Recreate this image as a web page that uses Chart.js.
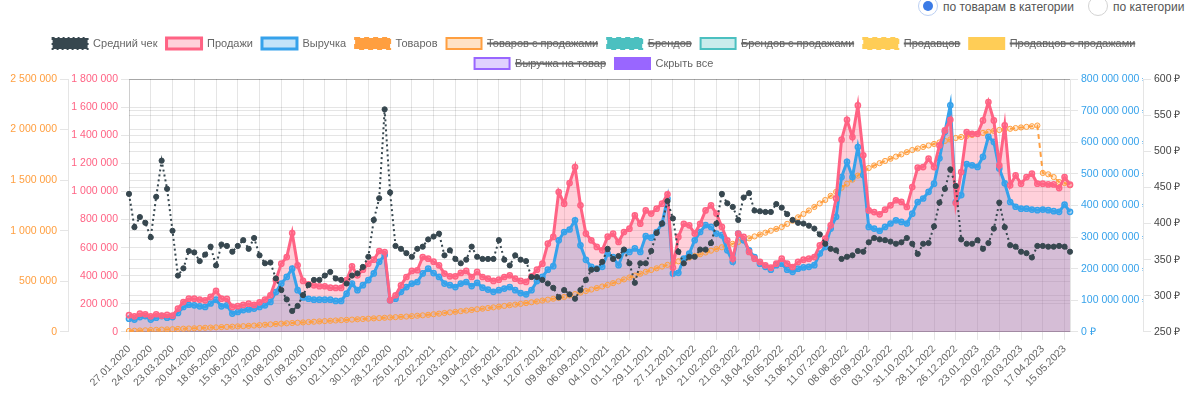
<!DOCTYPE html>
<html>
<head>
<meta charset="utf-8">
<script src="https://cdn.jsdelivr.net/npm/chart.js@4.4.0/dist/chart.umd.min.js"></script>
<style>
  html, body { margin: 0; padding: 0; background: #fff; width: 1200px; height: 401px; overflow: hidden; }
  body { font-family: 'Liberation Sans', Arial, sans-serif; }
  .opt { position: absolute; top: 0; height: 16px; }
  .radio { position: absolute; top: -4px; left: 0; width: 20px; height: 20px; box-sizing: border-box;
           border: 1px solid #d3d3d3; border-radius: 50%; background: #fff; }
  .radio.on { border-color: #bcd0f3; }
  .radio.on::after { content: ''; position: absolute; left: 4px; top: 4px; width: 10px; height: 10px;
                     border-radius: 50%; background: #3b7be6; }
  .txt { position: absolute; left: 25px; top: 0; font-size: 12px; color: #555; white-space: nowrap; }
  #wrap { position: absolute; left: 0; top: 29px; width: 1200px; height: 372px; }
</style>
</head>
<body>
<div class="opt" style="left:918px"><span class="radio on"></span><span class="txt">по товарам в категории</span></div>
<div class="opt" style="left:1088px"><span class="radio"></span><span class="txt">по категории</span></div>
<div id="wrap"><canvas id="trendChart"></canvas></div>
<script>
// weekly points from 27.01.2020
var weekCount = 174;

// average check, rub
var avgCheck = [
  441, 395, 409, 401, 381, 437, 487, 448, 390, 328,
  338, 362, 360, 348, 357, 368, 342, 371, 369, 361,
  369, 377, 365, 380, 356, 345, 346, 324, 308, 295,
  279, 286, 301, 315, 322, 322, 328, 333, 324, 322,
  317, 328, 331, 340, 354, 405, 435, 558, 443, 369,
  365, 359, 354, 365, 368, 378, 382, 386, 356, 363,
  351, 345, 350, 368, 354, 351, 351, 351, 377, 350,
  342, 356, 350, 348, 326, 326, 322, 317, 311, 298,
  308, 302, 296, 308, 322, 336, 337, 347, 365, 351,
  355, 364, 345, 318, 345, 345, 362, 387, 400, 431,
  407, 361, 345, 354, 354, 364, 364, 373, 400, 441,
  428, 423, 405, 436, 442, 418, 417, 416, 416, 427,
  422, 413, 405, 401, 400, 397, 393, 385, 372, 365,
  363, 351, 354, 356, 362, 361, 374, 380, 378, 377,
  375, 372, 374, 380, 372, 358, 372, 373, 396, 429,
  448, 475, 452, 378, 372, 372, 377, 365, 373, 393,
  429, 395, 370, 368, 361, 359, 353, 369, 369, 368,
  368, 369, 368, 361
];

// sales, thousands of units
var salesK = [
  119, 111, 130, 126, 111, 126, 116, 121, 116, 166,
  213, 237, 237, 230, 225, 249, 292, 237, 235, 178,
  183, 192, 201, 192, 211, 230, 261, 370, 486, 533,
  704, 474, 363, 339, 332, 325, 325, 315, 313, 313,
  368, 467, 403, 443, 486, 514, 576, 569, 225, 261,
  332, 391, 434, 439, 533, 521, 500, 474, 415, 396,
  396, 420, 434, 391, 427, 391, 379, 363, 372, 391,
  403, 379, 363, 356, 396, 443, 486, 628, 676, 996,
  913, 1060, 1173, 901, 700, 652, 605, 581, 678, 699,
  640, 711, 735, 830, 770, 865, 842, 877, 913, 979,
  458, 676, 770, 759, 700, 770, 865, 901, 842, 747,
  652, 521, 699, 676, 569, 521, 498, 474, 457, 486,
  521, 486, 462, 498, 514, 521, 533, 616, 664, 759,
  950, 1368, 1510, 1387, 1612, 1257, 865, 853, 837, 870,
  901, 937, 925, 889, 1031, 1169, 1173, 1233, 1173, 1327,
  1434, 1510, 917, 1138, 1422, 1410, 1410, 1505, 1636, 1505,
  1185, 1470, 1043, 1114, 1055, 1102, 1126, 1055, 1055, 1050,
  1050, 1024, 1102, 1048
];

// revenue, millions of rub
var revenueM = [
  42, 39, 47, 50, 39, 45, 50, 45, 47, 60,
  79, 86, 84, 81, 79, 90, 102, 81, 84, 58,
  63, 69, 71, 74, 79, 84, 95, 126, 153, 174,
  200, 132, 109, 105, 102, 102, 102, 102, 98, 98,
  121, 153, 132, 148, 164, 185, 222, 243, 100, 105,
  127, 142, 153, 158, 185, 200, 186, 174, 153, 148,
  142, 153, 158, 145, 155, 140, 134, 127, 132, 137,
  142, 132, 123, 119, 132, 161, 174, 197, 208, 290,
  316, 324, 353, 274, 228, 206, 200, 206, 248, 237,
  211, 258, 253, 264, 253, 303, 298, 316, 343, 422,
  185, 187, 232, 248, 290, 316, 338, 332, 311, 306,
  258, 222, 311, 290, 258, 237, 216, 206, 197, 211,
  216, 197, 190, 200, 204, 206, 211, 248, 269, 327,
  364, 490, 538, 490, 585, 496, 332, 327, 320, 332,
  343, 353, 348, 343, 374, 411, 422, 443, 469, 549,
  633, 717, 411, 433, 531, 527, 522, 554, 617, 601,
  517, 470, 411, 396, 390, 390, 387, 385, 387, 385,
  382, 380, 403, 380
];

// goods in category, thousands
var goodsK = [
  10, 12, 14, 16, 19, 21, 23, 25, 27, 30,
  32, 34, 36, 39, 41, 43, 45, 48, 50, 52,
  55, 57, 60, 63, 67, 71, 75, 79, 82, 85,
  88, 91, 94, 98, 101, 104, 107, 110, 113, 116,
  119, 122, 125, 128, 131, 134, 137, 140, 143, 146,
  149, 152, 156, 160, 164, 169, 175, 181, 187, 193,
  199, 205, 211, 217, 224, 230, 236, 243, 250, 257,
  264, 270, 277, 285, 293, 301, 310, 319, 328, 337,
  346, 360, 374, 389, 404, 419, 434, 449, 464, 482,
  500, 519, 538, 557, 575, 594, 612, 629, 646, 663,
  681, 698, 716, 734, 751, 768, 785, 803, 820, 837,
  854, 871, 889, 907, 925, 944, 963, 981, 1000, 1018,
  1037, 1068, 1100, 1133, 1166, 1200, 1235, 1270, 1304, 1345,
  1385, 1425, 1465, 1505, 1545, 1583, 1620, 1645, 1668, 1690,
  1712, 1733, 1755, 1777, 1798, 1813, 1828, 1843, 1858, 1873,
  1888, 1903, 1917, 1927, 1937, 1947, 1957, 1967, 1977, 1987,
  1996, 2002, 2008, 2015, 2021, 2027, 2033, 2040, 1571, 1558,
  1531, 1482, 1472, 1449
];

// date labels, one per week
var weekLabels = [];
var startMs = Date.UTC(2020, 0, 27);
for (var i = 0; i < weekCount; i++) {
  var d = new Date(startMs + i * 7 * 86400000);
  var dd = ('0' + d.getUTCDate()).slice(-2);
  var mm = ('0' + (d.getUTCMonth() + 1)).slice(-2);
  weekLabels.push(dd + '.' + mm + '.' + d.getUTCFullYear());
}

function spaced(n) {
  return String(n).replace(/\B(?=(\d{3})+(?!\d))/g, ' ');
}

var PINK = '#ff6384', BLUE = '#36a2eb', ORANGE = '#ff9f40', DARK = '#37474f';
var TEAL = '#4bc0c0', YELLOW = '#ffcd56', PURPLE = '#9966ff';

Chart.defaults.font.family = "'Liberation Sans', Arial, sans-serif";
Chart.defaults.font.size = 10.5;
Chart.defaults.color = '#666';

var ctx = document.getElementById('trendChart').getContext('2d');
var trendChart = new Chart(ctx, {
  type: 'line',
  data: {
    labels: weekLabels,
    datasets: [{
      label: 'Средний чек',
      data: avgCheck,
      yAxisID: 'yCheck',
      borderColor: DARK,
      backgroundColor: DARK,
      borderWidth: 2,
      borderDash: [2, 3],
      pointRadius: 2.6,
      pointBorderWidth: 1,
      pointBackgroundColor: DARK,
      pointBorderColor: DARK,
      fill: false
    }, {
      label: 'Продажи',
      data: salesK.map(function (v) { return v * 1000; }),
      yAxisID: 'ySales',
      borderColor: PINK,
      backgroundColor: 'rgba(255, 99, 132, 0.3)',
      borderWidth: 3,
      pointRadius: 2.6,
      pointBorderWidth: 1.5,
      pointBackgroundColor: 'rgba(255, 99, 132, 0.3)',
      pointBorderColor: PINK,
      fill: 'origin'
    }, {
      label: 'Выручка',
      data: revenueM.map(function (v) { return v * 1000000; }),
      yAxisID: 'yRevenue',
      borderColor: BLUE,
      backgroundColor: 'rgba(54, 162, 235, 0.3)',
      borderWidth: 3,
      pointRadius: 2.6,
      pointBorderWidth: 1.5,
      pointBackgroundColor: 'rgba(54, 162, 235, 0.3)',
      pointBorderColor: BLUE,
      fill: 'origin'
    }, {
      label: 'Товаров',
      data: goodsK.map(function (v) { return v * 1000; }),
      yAxisID: 'yGoods',
      borderColor: ORANGE,
      backgroundColor: ORANGE,
      borderWidth: 2,
      borderDash: [5, 4],
      pointRadius: 2.6,
      pointBorderWidth: 1,
      pointBackgroundColor: 'rgba(255, 159, 64, 0.2)',
      pointBorderColor: ORANGE,
      fill: false
    }, {
      label: 'Товаров с продажами', data: [], yAxisID: 'yGoods', hidden: true,
      borderColor: ORANGE, backgroundColor: 'rgba(255, 159, 64, 0.3)', borderWidth: 2
    }, {
      label: 'Брендов', data: [], yAxisID: 'yGoods', hidden: true,
      borderColor: TEAL, backgroundColor: TEAL, borderWidth: 2, borderDash: [5, 4]
    }, {
      label: 'Брендов с продажами', data: [], yAxisID: 'yGoods', hidden: true,
      borderColor: TEAL, backgroundColor: 'rgba(75, 192, 192, 0.3)', borderWidth: 2
    }, {
      label: 'Продавцов', data: [], yAxisID: 'yGoods', hidden: true,
      borderColor: YELLOW, backgroundColor: YELLOW, borderWidth: 2, borderDash: [5, 4]
    }, {
      label: 'Продавцов с продажами', data: [], yAxisID: 'yGoods', hidden: true,
      borderColor: YELLOW, backgroundColor: YELLOW, borderWidth: 2
    }, {
      label: 'Выручка на товар', data: [], yAxisID: 'yCheck', hidden: true,
      borderColor: PURPLE, backgroundColor: 'rgba(153, 102, 255, 0.3)', borderWidth: 2
    }, {
      label: 'Скрыть все', data: [], yAxisID: 'yGoods',
      borderColor: PURPLE, backgroundColor: PURPLE, borderWidth: 2
    }]
  },
  options: {
    responsive: true,
    maintainAspectRatio: false,
    animation: false,
    layout: { padding: { left: 0, right: 12, top: 0, bottom: 9 } },
    elements: { line: { tension: 0 } },
    plugins: {
      filler: { drawTime: 'beforeDatasetsDraw' },
      tooltip: { enabled: false },
      legend: {
        display: true,
        position: 'top',
        labels: { boxWidth: 35, boxHeight: 11, padding: 9, color: '#666', font: { size: 11 } }
      }
    },
    scales: {
      x: {
        grid: { color: 'rgba(0,0,0,0.1)' },
        ticks: { autoSkip: false, maxRotation: 45, minRotation: 45, color: '#666' },
        afterBuildTicks: function (axis) {
          axis.ticks = axis.ticks.filter(function (t, idx) { return idx % 4 === 0; });
        }
      },
      yGoods: {
        position: 'left', weight: 2, min: 0, max: 2500000,
        ticks: { stepSize: 500000, color: ORANGE, callback: function (v) { return spaced(v); } },
        afterFit: function (s) { s.width = 68; }
      },
      ySales: {
        position: 'left', weight: 1, min: 0, max: 1800000,
        ticks: { stepSize: 200000, color: PINK, callback: function (v) { return spaced(v); } },
        afterFit: function (s) { s.width = 61; }
      },
      yRevenue: {
        position: 'right', weight: 1, min: 0, max: 800000000,
        ticks: { stepSize: 100000000, color: BLUE, callback: function (v) { return spaced(v) + ' ₽'; } },
        afterFit: function (s) { s.width = 73; }
      },
      yCheck: {
        position: 'right', weight: 2, min: 250, max: 600,
        ticks: { stepSize: 50, color: '#444', callback: function (v) { return v + ' ₽'; } },
        afterFit: function (s) { s.width = 45; }
      }
    }
  }
});
</script>
</body>
</html>
